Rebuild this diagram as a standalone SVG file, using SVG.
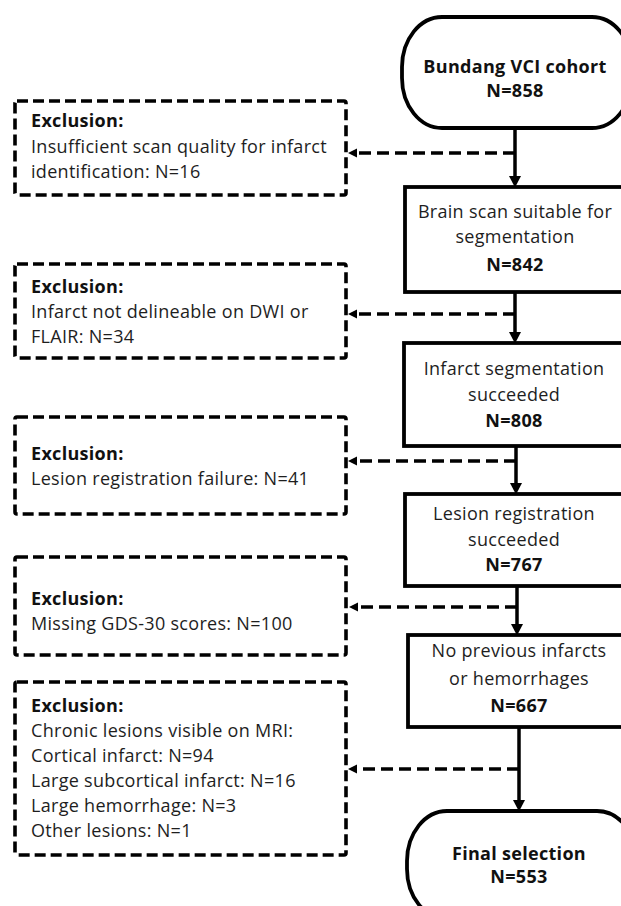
<svg xmlns="http://www.w3.org/2000/svg" width="621" height="906" viewBox="0 0 621 906">
<defs>
<marker id="ah" markerUnits="userSpaceOnUse" markerWidth="13" markerHeight="13" viewBox="0 0 13 13" refX="3" refY="6.5" orient="auto"><path d="M0,0.5 L11.5,6.5 L0,12.5 z" fill="#000"/></marker>
<marker id="ahd" markerUnits="userSpaceOnUse" markerWidth="10" markerHeight="10" viewBox="0 0 10 10" refX="2" refY="5" orient="auto"><path d="M0,0.5 L9,5 L0,9.5 z" fill="#000"/></marker>
</defs>
<style>
.box{fill:#fff;stroke:#000;stroke-width:3.8}
.exc{fill:#fff;stroke:#000;stroke-width:3.6;stroke-dasharray:11 5}
.t{font-family:"Open Sans","Liberation Sans",sans-serif;font-size:18px;letter-spacing:0.3px;fill:#1e1e1e}
.c{text-anchor:middle}
.b{font-weight:bold;fill:#111}
.ln{stroke:#000;stroke-width:3.5;fill:none}
.dl{stroke:#000;stroke-width:3.5;fill:none;stroke-dasharray:12 6}
</style>
<rect width="621" height="906" fill="#fff"/>

<g id="connectors">
<path class="ln" d="M515,128 V179" marker-end="url(#ah)"/>
<path class="ln" d="M515,292 V335" marker-end="url(#ah)"/>
<path class="ln" d="M516,446 V486" marker-end="url(#ah)"/>
<path class="ln" d="M517,586 V627" marker-end="url(#ah)"/>
<path class="ln" d="M519,727 V803" marker-end="url(#ah)"/>
<path class="dl" d="M515,153 H355" marker-end="url(#ahd)"/>
<path class="dl" d="M515,314 H355" marker-end="url(#ahd)"/>
<path class="dl" d="M516,461 H355" marker-end="url(#ahd)"/>
<path class="dl" d="M517,607 H356" marker-end="url(#ahd)"/>
<path class="dl" d="M519,769 H355" marker-end="url(#ahd)"/>
</g>

<g id="start">
<rect class="box" x="402" y="17" width="230" height="111" rx="40" ry="50"/>
<text class="t c b" x="515" y="73">Bundang VCI cohort</text>
<text class="t c b" x="515" y="97">N=858</text>
</g>

<g id="step1">
<rect class="box" x="405" y="187" width="230" height="105"/>
<text class="t c" x="515" y="218">Brain scan suitable for</text>
<text class="t c" x="515" y="243">segmentation</text>
<text class="t c b" x="515" y="271">N=842</text>
</g>

<g id="step2">
<rect class="box" x="404" y="343" width="230" height="103"/>
<text class="t c" x="514" y="375">Infarct segmentation</text>
<text class="t c" x="514" y="401">succeeded</text>
<text class="t c b" x="514" y="427">N=808</text>
</g>

<g id="step3">
<rect class="box" x="405" y="494" width="230" height="92"/>
<text class="t c" x="514" y="520">Lesion registration</text>
<text class="t c" x="514" y="546">succeeded</text>
<text class="t c b" x="514" y="571">N=767</text>
</g>

<g id="step4">
<rect class="box" x="408" y="635" width="230" height="92"/>
<text class="t c" x="519" y="657">No previous infarcts</text>
<text class="t c" x="519" y="685">or hemorrhages</text>
<text class="t c b" x="519" y="712">N=667</text>
</g>

<g id="final">
<rect class="box" x="407" y="811" width="230" height="108" rx="40" ry="50"/>
<text class="t c b" x="519" y="860">Final selection</text>
<text class="t c b" x="519" y="883">N=553</text>
</g>

<g id="excl1">
<rect class="exc" x="15" y="101" width="331" height="94" rx="2"/>
<text class="t b" x="31" y="127">Exclusion:</text>
<text class="t" x="31" y="153">Insufficient scan quality for infarct</text>
<text class="t" x="31" y="178">identification: N=16</text>
</g>

<g id="excl2">
<rect class="exc" x="15" y="264" width="331" height="94" rx="2"/>
<text class="t b" x="31" y="293">Exclusion:</text>
<text class="t" x="31" y="318">Infarct not delineable on  DWI or</text>
<text class="t" x="31" y="343">FLAIR: N=34</text>
</g>

<g id="excl3">
<rect class="exc" x="15" y="417" width="331" height="97" rx="2"/>
<text class="t b" x="31" y="460">Exclusion:</text>
<text class="t" x="31" y="485">Lesion registration failure: N=41</text>
</g>

<g id="excl4">
<rect class="exc" x="15" y="557" width="331" height="98" rx="2"/>
<text class="t b" x="31" y="605">Exclusion:</text>
<text class="t" x="31" y="630">Missing GDS-30 scores: N=100</text>
</g>

<g id="excl5">
<rect class="exc" x="15" y="682" width="331" height="173" rx="2"/>
<text class="t b" x="31" y="712">Exclusion:</text>
<text class="t" x="31" y="737">Chronic lesions visible on MRI:</text>
<text class="t" x="31" y="762">Cortical infarct: N=94</text>
<text class="t" x="31" y="787">Large subcortical infarct: N=16</text>
<text class="t" x="31" y="812">Large hemorrhage: N=3</text>
<text class="t" x="31" y="837">Other lesions: N=1</text>
</g>
</svg>
